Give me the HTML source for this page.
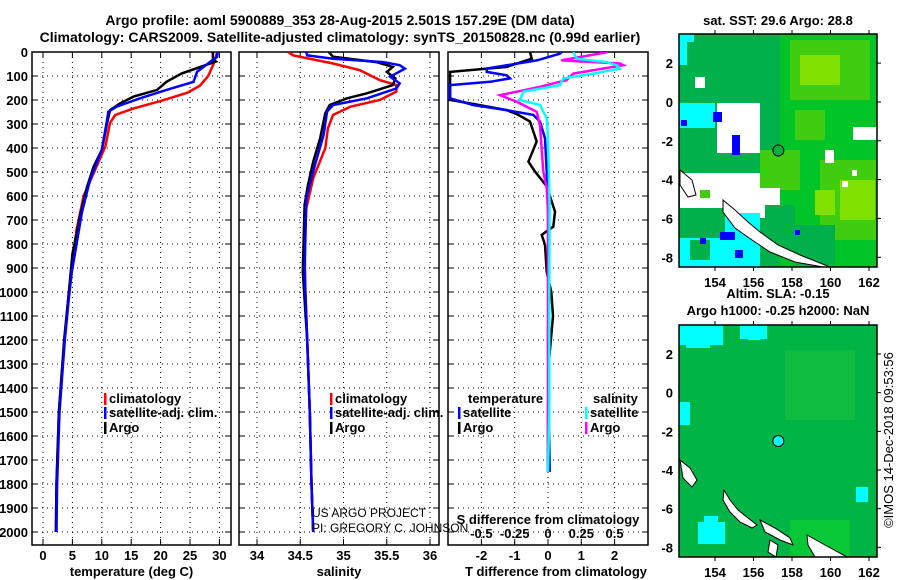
<!DOCTYPE html>
<html><head><meta charset="utf-8">
<style>
html,body{margin:0;padding:0;background:#fff;}
svg{display:block;font-family:"Liberation Sans",sans-serif;}
.t{font-weight:bold;font-size:13px;fill:#000;}
.ti{font-weight:bold;font-size:14px;fill:#000;}
.grid{stroke:#000;stroke-width:1;stroke-dasharray:1,4;}
</style></head>
<body>
<svg id="root" width="900" height="580" viewBox="0 0 900 580" xmlns="http://www.w3.org/2000/svg">
<text class="ti" x="340" y="25" text-anchor="middle">Argo profile: aoml 5900889_353 28-Aug-2015 2.501S 157.29E (DM data)</text>
<text class="ti" x="340" y="42" text-anchor="middle">Climatology: CARS2009. Satellite-adjusted climatology: synTS_20150828.nc (0.99d earlier)</text>
<g id="panels"></g>
<g id="maps"></g>
<text x="893" y="440" transform="rotate(-90 893 440)" text-anchor="middle" font-size="13" font-family="Liberation Sans, sans-serif">©IMOS 14-Dec-2018 09:53:56</text>
</svg>
<script>
// ---- depth axis
const depthTicks = [0,100,200,300,400,500,600,700,800,900,1000,1100,1200,1300,1400,1500,1600,1700,1800,1900,2000];
// ---- temperature panel
const tempTicks = [0,5,10,15,20,25,30];
const climTDepth = [0,20,50,100,140,170,205,235,262,296,394,505,600,742,900,1000,1200,1500,1800,2000];
const climT = [29.6,29.4,29,28.1,26.7,24.5,19.9,15.4,12.3,11.4,10.6,8.6,6.9,5.7,4.9,4.4,3.6,2.7,2.3,2.2];
const satTDepth = [0,20,82,124,158,193,228,249,283,408,533,671,917,1000,1200,1500,1800,2000];
const satT = [29.7,29.6,26.2,25.6,21,16.5,12.5,11.1,10.9,10,8,6.6,4.9,4.5,3.7,2.8,2.4,2.3];
const argoTDepth = [0,30,40,60,89,124,158,186,214,242,296,408,478,561,672,842,1000,1200,1500,1800,2000];
const argoT = [28.9,28.9,29.4,27,23.6,21,19.4,15.4,13.1,11.4,10.9,10,8.6,7.5,6.4,5.0,4.4,3.6,2.7,2.3,2.2];
// ---- salinity panel
const salTicks = [34,34.5,35,35.5,36];
const salTickLabels = ['34','34.5','35','35.5','36'];
const climSDepth = [0,14,48,76,117,138,165,200,228,262,318,401,526,651,803,1000,1200,1500,1800,2000];
const climS = [34.36,34.42,34.88,35.19,35.42,35.61,35.61,35.42,35.08,34.88,34.82,34.79,34.65,34.57,34.55,34.56,34.58,34.61,34.63,34.65];
const satSDepth = [0,14,28,42,55,69,103,131,152,193,221,248,345,470,609,915,1200,1500,1800,2000];
const satS = [34.57,34.58,34.88,35.46,35.65,35.71,35.54,35.65,35.61,35.27,34.88,34.81,34.77,34.67,34.57,34.55,34.58,34.61,34.63,34.65];
const argoSDepth = [0,20,42,62,83,110,138,172,193,221,255,360,457,554,637,915,1200,1500,1800,2000];
const argoS = [34.83,34.88,35.38,35.57,35.5,35.6,35.57,35.27,35.04,34.84,34.79,34.73,34.65,34.59,34.55,34.53,34.58,34.61,34.63,34.65];
// ---- difference panel
const tdiffTicks = [-2,-1,0,1,2];
const sdiffTicks = [-0.5,-0.25,0,0.25,0.5];
const satTdDepth = [0,7,35,69,83,97,110,124,138,193,221,242,262,290,360,498,637,900,1200,1500,1750];
const satTd = [0.41,0.36,-0.34,-1.84,-1.84,-1.24,-1.14,-1.74,-2.94,-2.94,-2.25,-1.24,-0.44,-0.24,-0.09,-0.04,0,0.02,0.0,0.02,0.05];
const argoTdDepth = [0,28,62,83,200,214,242,262,290,373,457,498,560,665,728,762,803,915,1000,1100,1300,1500,1750];
const argoTd = [-0.54,-0.49,-1.24,-2.94,-2.94,-2.34,-1.24,-0.89,-0.54,-0.34,-0.59,-0.39,-0.04,0.21,0.16,-0.19,-0.09,-0.04,0.1,0.15,0.02,0.0,0.0];
const satSdDepth = [0,28,42,55,69,90,110,138,165,200,221,276,360,637,1000,1500,1750];
const satSd = [0.19,0.215,0.44,0.515,0.54,0.34,0.115,0.09,-0.185,-0.21,-0.06,-0.01,0,0.012,0.01,0.01,0.0];
const argoSdDepth = [0,35,48,55,90,117,145,180,207,249,304,401,498,567,665,1000,1500,1750];
const argoSd = [0.45,0.1,0.54,0.565,0.19,0.14,-0.06,-0.36,-0.235,-0.085,-0.06,-0.048,-0.035,-0.01,0,0,0,0];

const NS='http://www.w3.org/2000/svg';
const root=document.getElementById('panels');
function el(tag,attrs,parent,text){const e=document.createElementNS(NS,tag);for(const k in attrs)e.setAttribute(k,attrs[k]);if(text!==undefined)e.textContent=text;(parent||root).appendChild(e);return e;}
const TOP=52,BOT=545;
function dy(d){return TOP+d*0.24;}
const P=[{x0:32,x1:231,name:'temperature'},{x0:239,x1:439,name:'salinity'},{x0:448,x1:648,name:'difference'}];
function tx(v){return 43+v*5.88;}
function sx(v){return 257+(v-34)*86.5;}
function dtx(v){return 548+v*33.3;}
function dsx(v){return 548+v*133.2;}

const defs=el('defs',{});
P.forEach((p,i)=>{const c=el('clipPath',{id:'clip'+i},defs);el('rect',{x:p.x0,y:TOP,width:p.x1-p.x0,height:BOT-TOP},c);});

function frame(p,i,xt,xf,labels,title){
  const g=el('g',{});
  
  
  depthTicks.forEach(d=>{
    const y=dy(d);
    const gl=el('line',{x1:p.x0,x2:p.x1,y1:y,y2:y,class:'grid'},g);
    
    
    el('line',{x1:p.x0,x2:p.x0+6,y1:y,y2:y,stroke:'#000'},g);
    el('line',{x1:p.x1-6,x2:p.x1,y1:y,y2:y,stroke:'#000'},g);
  });
  xt.forEach((v,k)=>{
    const x=xf(v);
    const gl=el('line',{x1:x,x2:x,y1:TOP,y2:BOT,class:'grid'},g);
    
    
    el('line',{x1:x,x2:x,y1:BOT-6,y2:BOT,stroke:'#000'},g);
    el('line',{x1:x,x2:x,y1:TOP,y2:TOP+6,stroke:'#000'},g);
    const t=el('text',{x:x,y:BOT+15,class:'t','text-anchor':'middle'},g,labels[k]);
    
    
  });
  const r=el('rect',{x:p.x0,y:TOP,width:p.x1-p.x0,height:BOT-TOP,fill:'none',stroke:'#000','stroke-width':1.5},g);
  
  
  const tt=el('text',{x:(p.x0+p.x1)/2+(i==2?8:0),y:BOT+31,class:'t','text-anchor':'middle'},g,title);
  
  
  return g;
}
function line(i,xs,ds,xf,color,name,w){
  const pts=xs.map((v,k)=>xf(v).toFixed(1)+','+dy(ds[k]).toFixed(1)).join(' ');
  const pl=el('polyline',{points:pts,fill:'none',stroke:color,'stroke-width':w||2.5,'clip-path':'url(#clip'+i+')','stroke-linejoin':'miter'});
  
  
}
function legend(x,y,color,label,name){
  const g=el('g',{});
  
  
  if(color) el('rect',{x:x,y:y-10,width:2.5,height:12,fill:color},g);
  el('text',{x:x+5,y:y,class:'t'},g,label);
}
depthTicks.forEach(d=>{
  const t=el('text',{x:28,y:dy(d)+5,class:'t','text-anchor':'end'},root,String(d));
  
  
});
frame(P[0],0,tempTicks,tx,tempTicks.map(String),'temperature (deg C)');
frame(P[1],1,salTicks,sx,salTickLabels,'salinity');
frame(P[2],2,tdiffTicks,dtx,tdiffTicks.map(String),'T difference from climatology');

line(0,climT,climTDepth,tx,'#ff0000','temp-climatology-line');
line(0,argoT,argoTDepth,tx,'#000000','temp-argo-line');
line(0,satT,satTDepth,tx,'#0000ff','temp-satellite-line');
line(1,climS,climSDepth,sx,'#ff0000','sal-climatology-line');
line(1,argoS,argoSDepth,sx,'#000000','sal-argo-line');
line(1,satS,satSDepth,sx,'#0000ff','sal-satellite-line');
line(2,argoTd,argoTdDepth,dtx,'#000000','tdiff-argo-line');
line(2,satTd,satTdDepth,dtx,'#0000ff','tdiff-satellite-line');
line(2,argoSd,argoSdDepth,dsx,'#ff00ff','sdiff-argo-line');
line(2,satSd,satSdDepth,dsx,'#00ffff','sdiff-satellite-line');

legend(104,403,'#ff0000','climatology','legend-temp-climatology');
legend(104,417,'#0000ff','satellite-adj. clim.','legend-temp-satellite');
legend(104,432,'#000000','Argo','legend-temp-argo');
legend(330,403,'#ff0000','climatology','legend-sal-climatology');
legend(330,417,'#0000ff','satellite-adj. clim.','legend-sal-satellite');
legend(330,432,'#000000','Argo','legend-sal-argo');
legend(463,403,null,'temperature','legend-temperature-header');
legend(458,417,'#0000ff','satellite','legend-tdiff-satellite');
legend(458,432,'#000000','Argo','legend-tdiff-argo');
legend(588,403,null,'salinity','legend-salinity-header');
legend(585,417,'#00ffff','satellite','legend-sdiff-satellite');
legend(585,432,'#ff00ff','Argo','legend-sdiff-argo');

const st=el('text',{x:548,y:524,class:'t','text-anchor':'middle'},root,'S difference from climatology');


sdiffTicks.forEach(v=>{
  const t=el('text',{x:dsx(v),y:538,class:'t','text-anchor':'middle'},root,String(v));
  
  
});
const c1=el('text',{x:312,y:517,'font-size':'12','font-family':'Liberation Sans, sans-serif'},root,'US ARGO PROJECT');


const c2=el('text',{x:312,y:532,'font-size':'12','font-family':'Liberation Sans, sans-serif'},root,'PI: GREGORY C. JOHNSON');



// ---- maps
const mapLonTicks=[154,156,158,160,162];
const mapLatTicks=[2,0,-2,-4,-6,-8];
const argoLon=157.29, argoLat=-2.5;
const mroot=document.getElementById('maps');
function mapFrame(top,bottom,title1,title2,name,cfill,patches,islands,idx){
  const L=679,R=877;
  const lx=v=>L+(v-152.13)*19.25;
  const ly=v=>top+(3.5-v)*((bottom-top)/12);
  const g=el('g',{},mroot);
  
  
  const cp=el('clipPath',{id:'mclip'+idx},defs);el('rect',{x:L,y:top,width:R-L,height:bottom-top},cp);
  const inner=el('g',{'clip-path':'url(#mclip'+idx+')'},g);
  patches.forEach(p=>el('rect',{x:p[0],y:p[1],width:p[2],height:p[3],fill:p[4]},inner));
  islands.forEach(pts=>el('polygon',{points:pts,fill:'#fff',stroke:'#000','stroke-width':1},inner));
  const pt=el('circle',{cx:lx(argoLon),cy:ly(argoLat),r:5.5,fill:cfill,stroke:'#000','stroke-width':1},g);
  
  
  el('rect',{x:L,y:top,width:R-L,height:bottom-top,fill:'none',stroke:'#000','stroke-width':1.5},g);
  mapLonTicks.forEach(v=>{
    el('line',{x1:lx(v),x2:lx(v),y1:top-4,y2:top,stroke:'#000'},g);
    el('line',{x1:lx(v),x2:lx(v),y1:bottom,y2:bottom+4,stroke:'#000'},g);
    const t=el('text',{x:lx(v),y:bottom+20,class:'t','text-anchor':'middle'},g,String(v));
    
    
  });
  mapLatTicks.forEach(v=>{
    el('line',{x1:R,x2:R+4,y1:ly(v),y2:ly(v),stroke:'#000'},g);
    const t=el('text',{x:673,y:ly(v)+5,class:'t','text-anchor':'end'},g,String(v));
    
    
  });
  const t1=el('text',{x:778,y:title2?top-27:top-9,class:'t','text-anchor':'middle'},g,title1);
  
  
  if(title2){const t2=el('text',{x:778,y:top-10,class:'t','text-anchor':'middle'},g,title2);
    }
}
const G1='#00b04a',G2='#00c428',G3='#40cc10',G4='#80e000',CY='#00ffff',WH='#ffffff',BL='#0000ff';
mapFrame(34,267,'sat. SST: 29.6  Argo: 28.8',null,'sst-map','#00b040',[
  [679,34,200,240,G1],
  [780,34,100,240,G2],
  [790,40,80,60,G3],[800,55,40,30,G4],[795,110,30,30,G3],
  [820,160,57,80,G3],[840,180,35,40,G4],[815,190,20,25,G4],
  [760,150,40,40,G3],
  [679,34,8,31,CY],[684,34,10,8,CY],
  [680,103,35,25,CY],
  [717,103,43,50,WH],[695,77,10,11,WH],
  [713,112,9,10,BL],[732,135,8,20,BL],[681,120,6,6,BL],
  [680,173,80,42,WH],[740,188,40,30,WH],[700,190,10,8,G3],
  [680,213,80,54,CY],[680,208,45,30,G1],[690,240,20,20,G1],[720,232,15,8,BL],[735,250,8,8,BL],[700,238,6,6,BL],
  [825,150,9,13,WH],[853,127,24,13,WH],[842,181,6,6,WH],[852,170,5,6,WH],
  [765,205,30,50,G1],[795,225,40,40,G1],[795,230,5,5,BL]
],[
  '723,200 735,210 748,222 760,232 778,245 800,255 830,267 823,267 795,262 770,252 752,240 735,228 723,212',
  '680,170 692,180 696,195 688,197 680,185'
],0);
mapFrame(325,557,'Altim. SLA: -0.15','Argo h1000: -0.25 h2000: NaN','sla-map',CY,[
  [679,325,200,235,'#00b446'],
  [785,350,70,70,'#10bc40'],[790,520,60,37,'#08c838'],
  [680,325,43,20,CY],[686,340,24,8,CY],[740,325,27,14,CY],[748,335,12,5,CY],
  [680,402,10,23,CY],[698,522,27,22,CY],[704,516,14,8,CY],
  [856,487,12,15,CY]
],[
  '724,490 730,500 738,510 748,518 757,525 752,528 740,522 730,512 723,500',
  '760,520 775,528 790,538 793,545 780,540 765,532',
  '807,535 825,545 847,557 815,557 808,545',
  '680,460 690,468 697,480 692,487 683,478',
  '770,540 778,545 776,557 768,552'
],1);
</script>
</body></html>
